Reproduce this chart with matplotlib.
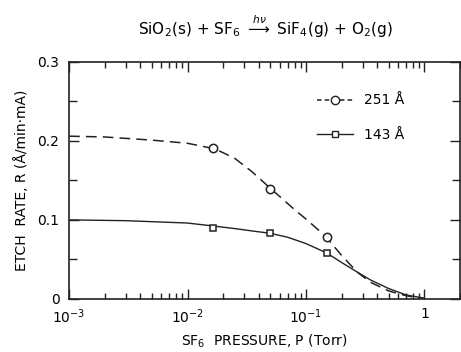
import numpy as np
import matplotlib
matplotlib.use("Agg")
import matplotlib.pyplot as plt
from matplotlib.ticker import FixedLocator, LogLocator, NullFormatter

# 251 A data (circles) and hand-read dashed curve
p_251 = [0.0165, 0.05, 0.15]
r_251 = [0.191, 0.139, 0.078]
curve_p_251 = [1e-3, 2e-3, 5e-3, 1e-2, 0.017, 0.025, 0.035, 0.05, 0.065, 0.08, 0.1, 0.13,
               0.15, 0.2, 0.27, 0.35, 0.5, 0.7, 0.9]
curve_r_251 = [0.206, 0.205, 0.201, 0.197, 0.190, 0.178, 0.161, 0.140, 0.125, 0.113, 0.101, 0.086,
               0.077, 0.055, 0.034, 0.021, 0.010, 0.004, 0.001]

# 143 A data (squares) and hand-read solid curve
p_143 = [0.0165, 0.05, 0.15]
r_143 = [0.090, 0.083, 0.058]
curve_p_143 = [1e-3, 3e-3, 1e-2, 0.017, 0.025, 0.035, 0.05, 0.07, 0.1, 0.15, 0.2, 0.27, 0.35,
               0.5, 0.7, 0.9, 1.0]
curve_r_143 = [0.100, 0.099, 0.096, 0.092, 0.089, 0.086, 0.083, 0.078, 0.070, 0.058, 0.046, 0.034, 0.024,
               0.013, 0.005, 0.002, 0.001]

fig = plt.figure(figsize=(4.61, 3.52), dpi=100)
ax = fig.add_axes([0.150, 0.151, 0.848, 0.673])

ax.plot(curve_p_251, curve_r_251, color="#222", lw=1.1, dashes=(7, 4))
ax.plot(curve_p_143, curve_r_143, color="#222", lw=1.0)
ax.plot(p_251, r_251, ls="none", marker="o", ms=6, mfc="white", mec="#222", mew=1.1)
ax.plot(p_143, r_143, ls="none", marker="s", ms=5, mfc="white", mec="#222", mew=1.1)

# legend handles
h1, = ax.plot([], [], color="#222", lw=1.1, dashes=(3, 2), marker="o", ms=6, mfc="white", mec="#222")
h2, = ax.plot([], [], color="#222", lw=1.0, marker="s", ms=5, mfc="white", mec="#222")
ax.legend([h1, h2], ["251 Å", "143 Å"], loc="upper right", bbox_to_anchor=(0.89, 0.92),
          frameon=False, fontsize=10, labelspacing=1.5, handlelength=2.6)

ax.set_xscale("log")
ax.set_xlim(1e-3, 2.0)
ax.set_ylim(0, 0.3)
ax.xaxis.set_major_locator(FixedLocator([1e-3, 1e-2, 1e-1, 1]))
ax.set_xticklabels(["10$^{-3}$", "10$^{-2}$", "10$^{-1}$", "1"])
ax.xaxis.set_minor_locator(LogLocator(base=10, subs=np.arange(2, 10), numticks=20))
ax.xaxis.set_minor_formatter(NullFormatter())
ax.set_yticks([0, 0.1, 0.2, 0.3])
ax.set_yticklabels(["0", "0.1", "0.2", "0.3"])
ax.set_yticks([0.05, 0.15, 0.25], minor=True)
ax.tick_params(which="both", direction="in", top=True, right=True, labelsize=10, color="#222")
ax.tick_params(which="major", length=7, width=1.0)
ax.tick_params(which="minor", length=4, width=1.0)
ax.tick_params(axis="y", which="minor", length=6)
ax.tick_params(axis="x", which="major", pad=6)
ax.tick_params(axis="y", which="major", pad=7)
for s in ax.spines.values():
    s.set_linewidth(1.2)
    s.set_color("#222")

ax.set_xlabel("SF$_6$  PRESSURE, P (Torr)", fontsize=10, labelpad=5)
ax.set_ylabel("ETCH  RATE, R (Å/min·mA)", fontsize=10, labelpad=6)
fig.text(0.575, 0.925, r"SiO$_2$(s) + SF$_6$ $\overset{h\nu}{\longrightarrow}$ SiF$_4$(g) + O$_2$(g)",
         ha="center", va="center", fontsize=11)

fig.savefig("out.png", dpi=100)
